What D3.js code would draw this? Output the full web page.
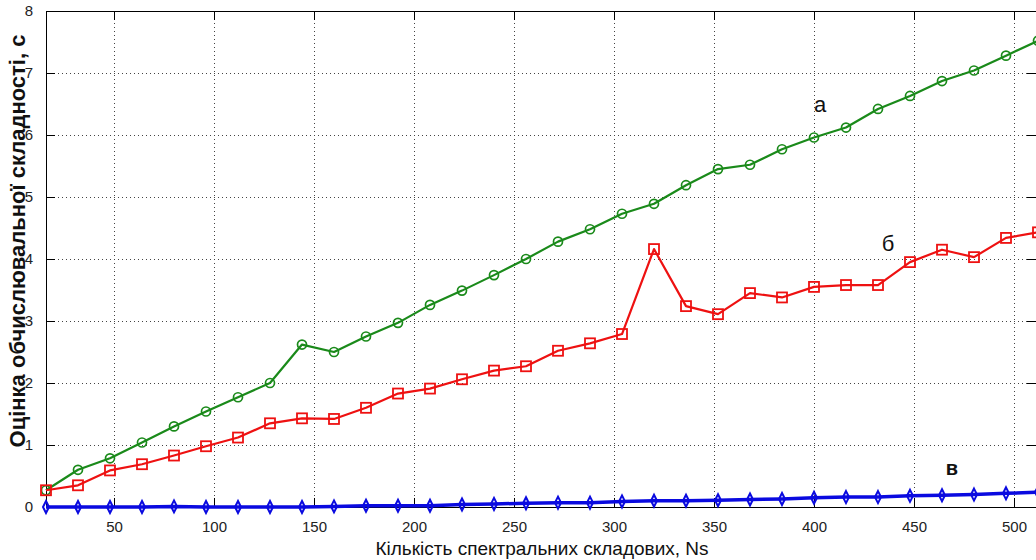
<!DOCTYPE html>
<html>
<head>
<meta charset="utf-8">
<script src="https://cdn.jsdelivr.net/npm/d3@7"></script>
<style>
  body { margin: 0; background: #fff; }
  svg { display: block; font-family: "Liberation Sans", Arial, sans-serif; }
</style>
</head>
<body>
<script>
const WIDTH  = 1036;
const HEIGHT = 560;
const FONT = '"Liberation Sans", Arial, sans-serif';

// Кількість спектральних складових (вісь X)
const ns = [16, 32, 48, 64, 80, 96, 112, 128, 144, 160, 176, 192, 208, 224, 240, 256,
            272, 288, 304, 320, 336, 352, 368, 384, 400, 416, 432, 448, 464, 480, 496, 512];

// крива "а" (зелена, кола)
const seriesA = [0.27, 0.60, 0.785, 1.04, 1.30, 1.54, 1.77, 2.00, 2.62, 2.50, 2.75, 2.97, 3.26, 3.49, 3.74, 4.00,
                 4.28, 4.48, 4.73, 4.89, 5.19, 5.45, 5.52, 5.77, 5.96, 6.12, 6.42, 6.63, 6.87, 7.04, 7.28, 7.52];

// крива "б" (червона, квадрати)
const seriesB = [0.27, 0.35, 0.59, 0.69, 0.83, 0.98, 1.12, 1.35, 1.43, 1.42, 1.60, 1.83, 1.91, 2.06, 2.20, 2.27,
                 2.52, 2.64, 2.79, 4.16, 3.24, 3.11, 3.45, 3.38, 3.55, 3.58, 3.58, 3.95, 4.15, 4.03, 4.34, 4.43];

// крива "в" (синя, ромби)
const seriesC = [0.00, 0.00, 0.00, 0.00, 0.01, 0.00, 0.00, 0.00, 0.00, 0.01, 0.02, 0.02, 0.02, 0.04, 0.05, 0.06,
                 0.07, 0.07, 0.09, 0.10, 0.10, 0.11, 0.12, 0.13, 0.15, 0.16, 0.16, 0.18, 0.19, 0.20, 0.22, 0.24];

const xTicks = [50, 100, 150, 200, 250, 300, 350, 400, 450, 500];
const yTicks = [0, 1, 2, 3, 4, 5, 6, 7, 8];

const xLabel = 'Кількість спектральних складових, Ns';
const yLabel = 'Оцінка обчислювальної складності, с';

const labels = [
  { text: 'а', n: 403, v: 6.37, bold: false },
  { text: 'б', n: 437, v: 4.13, bold: false },
  { text: 'в', n: 469, v: 0.52, bold: true }
];

let svg = d3.select('body').append('svg')
            .attr('width', WIDTH)
            .attr('height', HEIGHT);

let x = d3.scaleLinear().domain([16, 512]).range([46, 1038]);
let y = d3.scaleLinear().domain([0, 8]).range([507, 11]);

const plotLeft = x(16), plotRight = x(512), plotTop = y(8), plotBottom = y(0);

// сітка (пунктир)
let grid = svg.append('g')
              .attr('stroke', '#444')
              .attr('stroke-width', 1)
              .attr('stroke-dasharray', '1,3');

grid.selectAll('line.gx').data(xTicks).join('line')
    .attr('class', 'gx')
    .attr('x1', d => Math.round(x(d)) + 0.5).attr('x2', d => Math.round(x(d)) + 0.5)
    .attr('y1', plotTop).attr('y2', plotBottom);

grid.selectAll('line.gy').data(yTicks.slice(1, -1)).join('line')
    .attr('class', 'gy')
    .attr('y1', d => Math.round(y(d)) + 0.5).attr('y2', d => Math.round(y(d)) + 0.5)
    .attr('x1', plotLeft).attr('x2', plotRight);

// осі (рамка як у MATLAB, риски всередину)
let xAxisB = d3.axisBottom(x).tickValues(xTicks).tickSizeInner(-9).tickSizeOuter(0).tickPadding(14);
let xAxisT = d3.axisTop(x).tickValues(xTicks).tickSizeInner(-9).tickSizeOuter(0).tickFormat('');
let yAxisL = d3.axisLeft(y).tickValues(yTicks).tickSizeInner(-9).tickSizeOuter(0).tickPadding(13);
let yAxisR = d3.axisRight(y).tickValues(yTicks).tickSizeInner(-9).tickSizeOuter(0).tickFormat('');

function styleAxis(g) {
  g.selectAll('path, line').attr('stroke', '#000');
  g.selectAll('text').attr('fill', '#222').style('font-size', '15px')
   .style('font-family', FONT);
}

svg.append('g').attr('transform', `translate(0,${plotBottom})`).call(xAxisB).call(styleAxis);
svg.append('g').attr('transform', `translate(0,${plotTop})`).call(xAxisT).call(styleAxis);
svg.append('g').attr('transform', `translate(${plotLeft},0)`).call(yAxisL).call(styleAxis);
svg.append('g').attr('transform', `translate(${plotRight - 2},0)`).call(yAxisR).call(styleAxis);

// лінії
let line = d3.line().x((d, i) => x(ns[i])).y(d => y(d));

function drawSeries(values, color, width, marker) {
  svg.append('path').datum(values)
     .attr('d', line)
     .attr('fill', 'none')
     .attr('stroke', color)
     .attr('stroke-width', width)
     .attr('stroke-linejoin', 'round');

  let g = svg.append('g');
  values.forEach((v, i) => {
    let cx = x(ns[i]), cy = y(v);
    if (marker === 'circle') {
      g.append('circle').attr('cx', cx).attr('cy', cy).attr('r', 4.5)
       .attr('fill', 'none').attr('stroke', color).attr('stroke-width', 1.7);
    } else if (marker === 'square') {
      g.append('rect').attr('x', cx - 5).attr('y', cy - 5).attr('width', 10).attr('height', 10)
       .attr('fill', 'none').attr('stroke', color).attr('stroke-width', 1.8);
    } else {
      g.append('path').attr('d', `M${cx},${cy - 6}L${cx + 3},${cy}L${cx},${cy + 6}L${cx - 3},${cy}Z`)
       .attr('fill', 'none').attr('stroke', color).attr('stroke-width', 2);
    }
  });
}

drawSeries(seriesA, '#1a8a1a', 2.2, 'circle');
drawSeries(seriesB, '#ee1111', 2.2, 'square');
drawSeries(seriesC, '#0a0ae0', 3.5, 'diamond');

// підписи кривих
svg.selectAll('text.lbl').data(labels).join('text')
   .attr('class', 'lbl')
   .attr('x', d => x(d.n))
   .attr('y', d => y(d.v))
   .attr('text-anchor', 'middle')
   .style('font-family', FONT)
   .style('font-size', d => d.bold ? '20px' : '22px')
   .style('font-weight', d => d.bold ? 'bold' : 'normal')
   .attr('fill', '#111')
   .text(d => d.text);

// назви осей
svg.append('text')
   .attr('x', 542).attr('y', 555)
   .attr('text-anchor', 'middle')
   .style('font-family', FONT)
   .style('font-size', '19px')
   .attr('fill', '#111')
   .text(xLabel);

svg.append('text')
   .attr('transform', 'translate(25,241) rotate(-90)')
   .attr('text-anchor', 'middle')
   .style('font-family', FONT)
   .style('font-size', '22px')
   .style('font-weight', 'bold')
   .attr('fill', '#111')
   .text(yLabel);
</script>
</body>
</html>
